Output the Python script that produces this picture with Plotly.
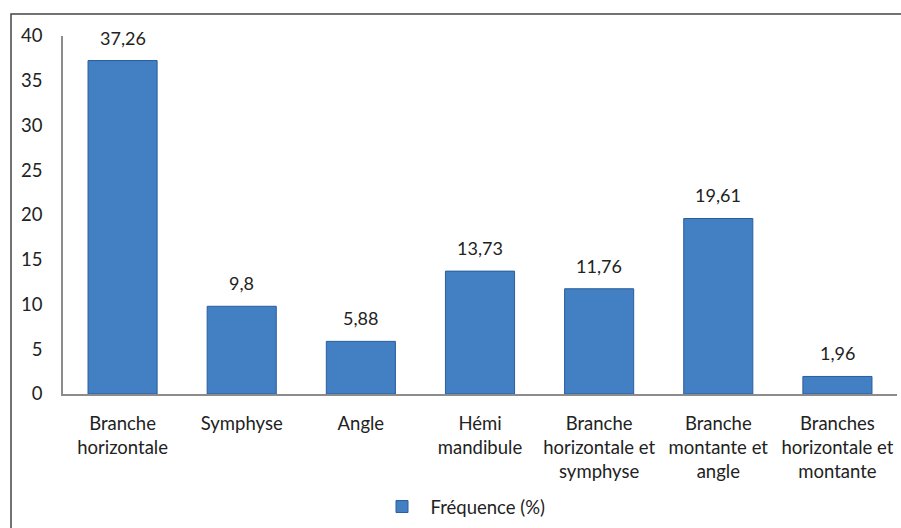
import plotly.graph_objects as go

categories = ["Branche<br>horizontale", "Symphyse", "Angle", "Hémi<br>mandibule",
              "Branche<br>horizontale et<br>symphyse", "Branche<br>montante et<br>angle",
              "Branches<br>horizontale et<br>montante"]
values = [37.26, 9.8, 5.88, 13.73, 11.76, 19.61, 1.96]
series_name = "Fréquence (%)"
y_ticks = [0, 5, 10, 15, 20, 25, 30, 35, 40]

W, H = 901, 528
L, R, T, B = 63, 4, 36, 134
pw, ph = W - L - R, H - T - B

fig = go.Figure()
fig.add_trace(go.Bar(
    x=categories, y=values, name=series_name,
    marker=dict(color="#427FC3", line=dict(color="#2A5E9E", width=1)),
    showlegend=True,
))
for c, v in zip(categories, values):
    fig.add_annotation(x=c, y=v, text=str(v).replace(".", ","), showarrow=False,
                       yanchor="bottom", yshift=10,
                       font=dict(size=18, color="#222222"))

def px_x(p):
    return (p - L) / pw

def px_y(p):
    return (H - B - p) / ph

fig.add_shape(type="rect", xref="paper", yref="paper",
              x0=px_x(11), x1=px_x(910), y0=px_y(540), y1=px_y(14),
              line=dict(color="#444444", width=1.5), fillcolor="rgba(0,0,0,0)", layer="below")

fig.update_layout(
    width=W, height=H,
    margin=dict(l=L, r=R, t=T, b=B, autoexpand=False),
    paper_bgcolor="white", plot_bgcolor="white",
    font=dict(family="Lato, Noto Sans, sans-serif", size=18.5, color="#222222"),
    bargap=0.42,
    legend=dict(orientation="h", x=px_x(462), xanchor="center", y=px_y(526), yanchor="bottom",
                font=dict(size=18.5), itemwidth=47),
    xaxis=dict(showline=True, linecolor="#8C8C8C", linewidth=1.5, ticks="",
               ticklabelstandoff=12, tickfont=dict(size=18.5), automargin=False),
    yaxis=dict(range=[0, 40], tickvals=y_ticks, showline=True, linecolor="#8C8C8C", linewidth=1.5,
               showgrid=False, zeroline=False, ticks="", ticklabelstandoff=15,
               tickfont=dict(size=18.5), automargin=False),
)
fig.write_html("out.html")
